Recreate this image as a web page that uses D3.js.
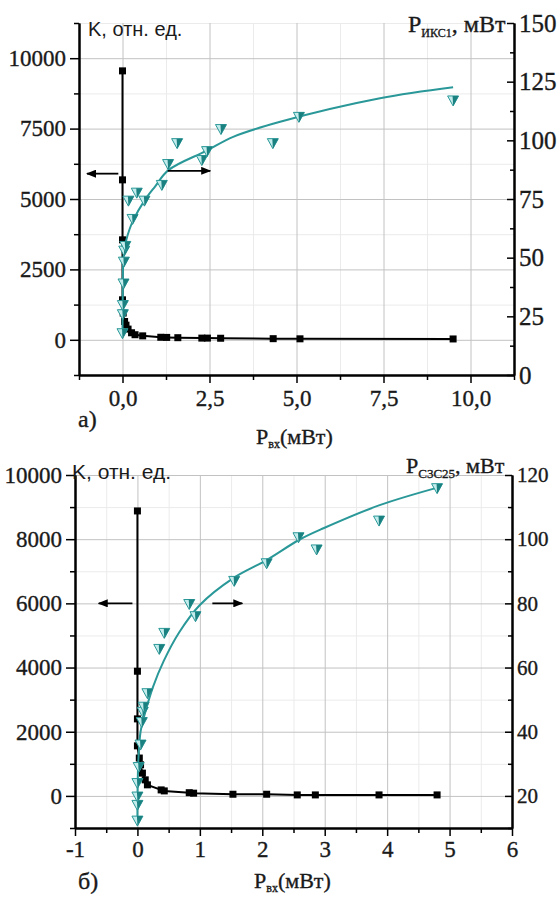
<!DOCTYPE html>
<html><head><meta charset="utf-8">
<script src="https://cdn.jsdelivr.net/npm/d3@7"></script>
<style>body{margin:0;background:#fff}svg{display:block}</style>
</head><body>
<svg id="c" width="558" height="899"></svg>
<script>
// ---------- Panel a) data ----------
const aKx = [0, 0, 0, 0, 0.02, 0.06, 0.1, 0.16, 0.26, 0.36, 0.58, 1.1, 1.27, 1.59, 2.28, 2.44, 2.82, 4.33, 5.1, 9.5];
const aK  = [9550, 5680, 3550, 1420, 950, 650, 520, 380, 250, 180, 140, 90, 85, 75, 60, 60, 55, 40, 35, 30];
const aPx = [0.0, 0.01, 0.01, 0.03, 0.04, 0.05, 0.08, 0.17, 0.29, 0.41, 0.63, 1.13, 1.31, 1.57, 2.28, 2.43, 2.83, 4.32, 5.07, 9.5];
const aP  = [17.8, 25.9, 29.8, 39, 48.3, 53, 55, 74.3, 66.5, 77.7, 74.3, 81, 89.9, 98.8, 91.6, 95.4, 104.8, 98.8, 110, 117];
const aFitX = [0, 0.005, 0.01, 0.02, 0.05, 0.1, 0.2, 0.31, 0.63, 0.93, 1.32, 2.42, 3.18, 4.53, 7.4, 9.5];
const aFitP = [18, 30, 40, 48, 53, 57, 62, 66, 74.3, 80.2, 87.3, 95.6, 101.5, 107.9, 117.9, 122.6];
const aXTicks = [0, 2.5, 5, 7.5, 10];
const aXMinor = [-1.25, 1.25, 3.75, 6.25, 8.75, 11.25];
const aKTicks = [0, 2500, 5000, 7500, 10000];
const aKMinor = [-1250, 1250, 3750, 6250, 8750, 11250];
const aPTicks = [0, 25, 50, 75, 100, 125, 150];
const aPMinor = [12.5, 37.5, 62.5, 87.5, 112.5, 137.5];

// ---------- Panel б) data ----------
const bKx = [0, 0, 0, 0, 0.03, 0.05, 0.08, 0.125, 0.16, 0.38, 0.43, 0.83, 0.9, 1.53, 2.07, 2.56, 2.85, 3.87, 4.8];
const bK  = [8880, 3885, 2400, 1560, 1180, 970, 710, 500, 345, 187, 156, 100, 85, 52, 52, 31, 31, 31, 31];
const bPx = [0, 0, 0, 0, 0.02, 0.05, 0.07, 0.085, 0.1, 0.16, 0.35, 0.43, 0.83, 0.93, 1.55, 2.07, 2.58, 2.87, 3.87, 4.8];
const bP  = [12.3, 17.2, 19.8, 24, 29, 36, 43, 46.2, 47.8, 52, 65.8, 70.8, 79.8, 76, 87, 92.5, 100.6, 96.8, 105.8, 115.9];
const bFitX = [0, 0.005, 0.02, 0.05, 0.11, 0.25, 0.42, 0.67, 1.0, 1.53, 2.07, 2.6, 2.98, 3.88, 4.85];
const bFitP = [12, 25, 33, 40, 45, 54, 62, 71, 79.5, 87.8, 93.5, 99.9, 103.4, 110.6, 116.3];
const bXTicks = [-1, 0, 1, 2, 3, 4, 5, 6];
const bXMinor = [-0.5, 0.5, 1.5, 2.5, 3.5, 4.5, 5.5];
const bKTicks = [0, 2000, 4000, 6000, 8000, 10000];
const bKMinor = [-1000, 1000, 3000, 5000, 7000, 9000];
const bPTicks = [20, 40, 60, 80, 100, 120];
const bPMinor = [10, 30, 50, 70, 90, 110];

const SERIF = '"Liberation Serif", "Times New Roman", Times, serif';
const SANS = '"Liberation Sans", Arial, Helvetica, sans-serif';
const svg = d3.select('#c');
const teal = '#2a9898';
const tealDark = '#1a8080';
const tealLight = '#c4ecec';
const INK = '#1a1a1a';

svg.append('rect').attr('width', 558).attr('height', 899).attr('fill', '#fff');
const defs = svg.append('defs');
defs.append('marker').attr('id', 'ah').attr('viewBox', '0 0 10 8')
  .attr('refX', 9).attr('refY', 4).attr('markerWidth', 10).attr('markerHeight', 8)
  .attr('markerUnits', 'userSpaceOnUse').attr('orient', 'auto')
  .append('path').attr('d', 'M0,0 L10,4 L0,8 Z').attr('fill', '#000');

function inkText(sel) {
  return sel.attr('fill', INK).attr('stroke', INK).attr('stroke-width', 0.35);
}

function styleAxis(sel, fs) {
  sel.attr('font-family', null).attr('font-size', null);
  sel.selectAll('.domain').attr('stroke', '#000').attr('stroke-width', 2);
  sel.selectAll('.tick line').attr('stroke', '#000').attr('stroke-width', 1.5);
  inkText(sel.selectAll('.tick text').style('font-family', SERIF).style('font-size', fs + 'px'));
}

function drawPanel(o) {
  const g = svg.append('g');
  const { x, yL, yR } = o;
  const [x0, x1] = x.range();
  const [yb, yt] = yL.range();
  const H = yb - yt, W = x1 - x0;
  // grid (minor then major)
  g.append('g').attr('transform', `translate(0,${yb})`)
    .call(d3.axisBottom(x).tickValues(o.xMinor).tickSize(-H).tickFormat(''))
    .call(s => { s.select('.domain').remove(); s.selectAll('line').attr('stroke', '#ebebeb').attr('stroke-width', 1); });
  g.append('g').attr('transform', `translate(${x0},0)`)
    .call(d3.axisLeft(yL).tickValues(o.kMinor).tickSize(-W).tickFormat(''))
    .call(s => { s.select('.domain').remove(); s.selectAll('line').attr('stroke', '#ebebeb').attr('stroke-width', 1); });
  g.append('g').attr('transform', `translate(0,${yb})`)
    .call(d3.axisBottom(x).tickValues(o.xTicks).tickSize(-H).tickFormat(''))
    .call(s => { s.select('.domain').remove(); s.selectAll('line').attr('stroke', '#c2c2c2').attr('stroke-width', 1); });
  g.append('g').attr('transform', `translate(${x0},0)`)
    .call(d3.axisLeft(yL).tickValues(o.kTicks).tickSize(-W).tickFormat(''))
    .call(s => { s.select('.domain').remove(); s.selectAll('line').attr('stroke', '#c2c2c2').attr('stroke-width', 1); });

  // black K line + squares
  const kData = o.kx.map((v, i) => [v, o.k[i]]);
  g.append('path').datum(kData)
    .attr('d', d3.line().x(d => x(d[0])).y(d => yL(d[1])))
    .attr('fill', 'none').attr('stroke', '#000').attr('stroke-width', 2);
  g.selectAll('rect.sq').data(kData).join('rect').attr('class', 'sq')
    .attr('x', d => x(d[0]) - 3.5).attr('y', d => yL(d[1]) - 3.5)
    .attr('width', 7).attr('height', 7).attr('fill', '#000');

  // teal fit curve
  const fit = o.fitX.map((v, i) => [v, o.fitP[i]]);
  g.append('path').datum(fit)
    .attr('d', d3.line().x(d => x(d[0])).y(d => yR(d[1])).curve(d3.curveCatmullRom.alpha(0.5)))
    .attr('fill', 'none').attr('stroke', teal).attr('stroke-width', 2);
  // triangles
  const pData = o.px.map((v, i) => [v, o.p[i]]);
  const tri = g.selectAll('g.tri').data(pData).join('g').attr('class', 'tri')
    .attr('transform', d => `translate(${x(d[0])},${yR(d[1])})`);
  tri.append('path').attr('d', 'M-5.5,-4.5 L5.5,-4.5 L0,5.5 Z').attr('fill', tealLight).attr('stroke', teal).attr('stroke-width', 1);
  tri.append('path').attr('d', 'M-0.5,-4.5 L5.5,-4.5 L0,5.5 Z').attr('fill', tealDark);

  // arrows
  o.arrows.forEach(a => {
    const ys = a.side === 'L' ? yL : yR;
    g.append('line').attr('x1', x(a.from)).attr('x2', x(a.to))
      .attr('y1', ys(a.v)).attr('y2', ys(a.v))
      .attr('stroke', '#000').attr('stroke-width', 1.8).attr('marker-end', 'url(#ah)');
  });

  // axes
  const ax = g.append('g').attr('transform', `translate(0,${yb})`)
    .call(d3.axisBottom(x).tickValues(o.xTicks).tickSize(8).tickSizeOuter(0).tickPadding(o.xPad).tickFormat(o.xFmt));
  styleAxis(ax, o.xFs);
  const axm = g.append('g').attr('transform', `translate(0,${yb})`)
    .call(d3.axisBottom(x).tickValues(o.xMinor).tickSize(5).tickSizeOuter(0).tickFormat(''));
  styleAxis(axm, 10);
  const al = g.append('g').attr('transform', `translate(${x0},0)`)
    .call(d3.axisLeft(yL).tickValues(o.kTicks).tickSize(9).tickSizeOuter(0).tickPadding(4).tickFormat(d => String(d)));
  styleAxis(al, o.lFs);
  const alm = g.append('g').attr('transform', `translate(${x0},0)`)
    .call(d3.axisLeft(yL).tickValues(o.kMinor).tickSize(5).tickSizeOuter(0).tickFormat(''));
  styleAxis(alm, 10);
  const ar = g.append('g').attr('transform', `translate(${x1},0)`)
    .call(d3.axisRight(yR).tickValues(o.pTicks).tickSize(-7).tickSizeOuter(0).tickPadding(5).tickFormat(d => String(d)));
  styleAxis(ar, o.rFs);
  const arm = g.append('g').attr('transform', `translate(${x1},0)`)
    .call(d3.axisRight(yR).tickValues(o.pMinor).tickSize(-4).tickSizeOuter(0).tickFormat(''));
  styleAxis(arm, 10);

  // titles
  g.append('text').attr('x', o.kTitle[0]).attr('y', o.kTitle[1])
    .style('font-family', SANS).style('font-size', o.kTitle[2] + 'px').attr('fill', INK).text('K, отн. ед.');
  const rt = inkText(g.append('text').attr('x', o.pTitle[0]).attr('y', o.pTitle[1])
    .style('font-family', SERIF).style('font-size', o.pTitle[2] + 'px'));
  rt.append('tspan').text('P');
  rt.append('tspan').style('font-size', o.pTitle[3] + 'px').attr('dy', 5).text(o.pSub);
  rt.append('tspan').attr('dy', -5).text(', мВт');
  const xt = inkText(g.append('text').attr('x', o.xTitle[0]).attr('y', o.xTitle[1])
    .style('font-family', SERIF).style('font-size', '22px'));
  xt.append('tspan').text('P');
  xt.append('tspan').style('font-size', '12px').attr('dy', 4).text('вх');
  xt.append('tspan').attr('dy', -4).text('(мВт)');
  inkText(g.append('text').attr('x', o.lab[0]).attr('y', o.lab[1])
    .style('font-family', SERIF).style('font-size', '24px').text(o.lab[2]));
}

drawPanel({
  x: d3.scaleLinear().domain([-1.25, 11.25]).range([79, 514]),
  yL: d3.scaleLinear().domain([-1250, 11250]).range([375, 23]),
  yR: d3.scaleLinear().domain([0, 150]).range([375, 23]),
  xTicks: aXTicks, xMinor: aXMinor, kTicks: aKTicks, kMinor: aKMinor, pTicks: aPTicks, pMinor: aPMinor,
  xFmt: d => d3.format('.1f')(d).replace('.', ','), xPad: 7, xFs: 23, lFs: 23, rFs: 25,
  kx: aKx, k: aK, px: aPx, p: aP, fitX: aFitX, fitP: aFitP,
  arrows: [{ side: 'L', v: 5900, from: -0.12, to: -1.02 }, { side: 'R', v: 87, from: 1.3, to: 2.52 }],
  kTitle: [88, 36, 20], pTitle: [408, 32, 24, 12], pSub: 'ИКС1',
  xTitle: [256, 444], lab: [78, 427, 'а)']
});

drawPanel({
  x: d3.scaleLinear().domain([-1, 6]).range([75, 512]),
  yL: d3.scaleLinear().domain([-1000, 10000]).range([828, 475]),
  yR: d3.scaleLinear().domain([10, 120]).range([828, 475]),
  xTicks: bXTicks, xMinor: bXMinor, kTicks: bKTicks, kMinor: bKMinor, pTicks: bPTicks, pMinor: bPMinor,
  xFmt: d => String(d), xPad: 5, xFs: 23, lFs: 23, rFs: 21,
  kx: bKx, k: bK, px: bPx, p: bP, fitX: bFitX, fitP: bFitP,
  arrows: [{ side: 'L', v: 6000, from: -0.08, to: -0.62 }, { side: 'R', v: 80, from: 1.2, to: 1.68 }],
  kTitle: [72, 479, 21], pTitle: [406, 473, 22, 13], pSub: 'C3C25',
  xTitle: [254, 888], lab: [78, 889, 'б)']
});
</script>
</body></html>
